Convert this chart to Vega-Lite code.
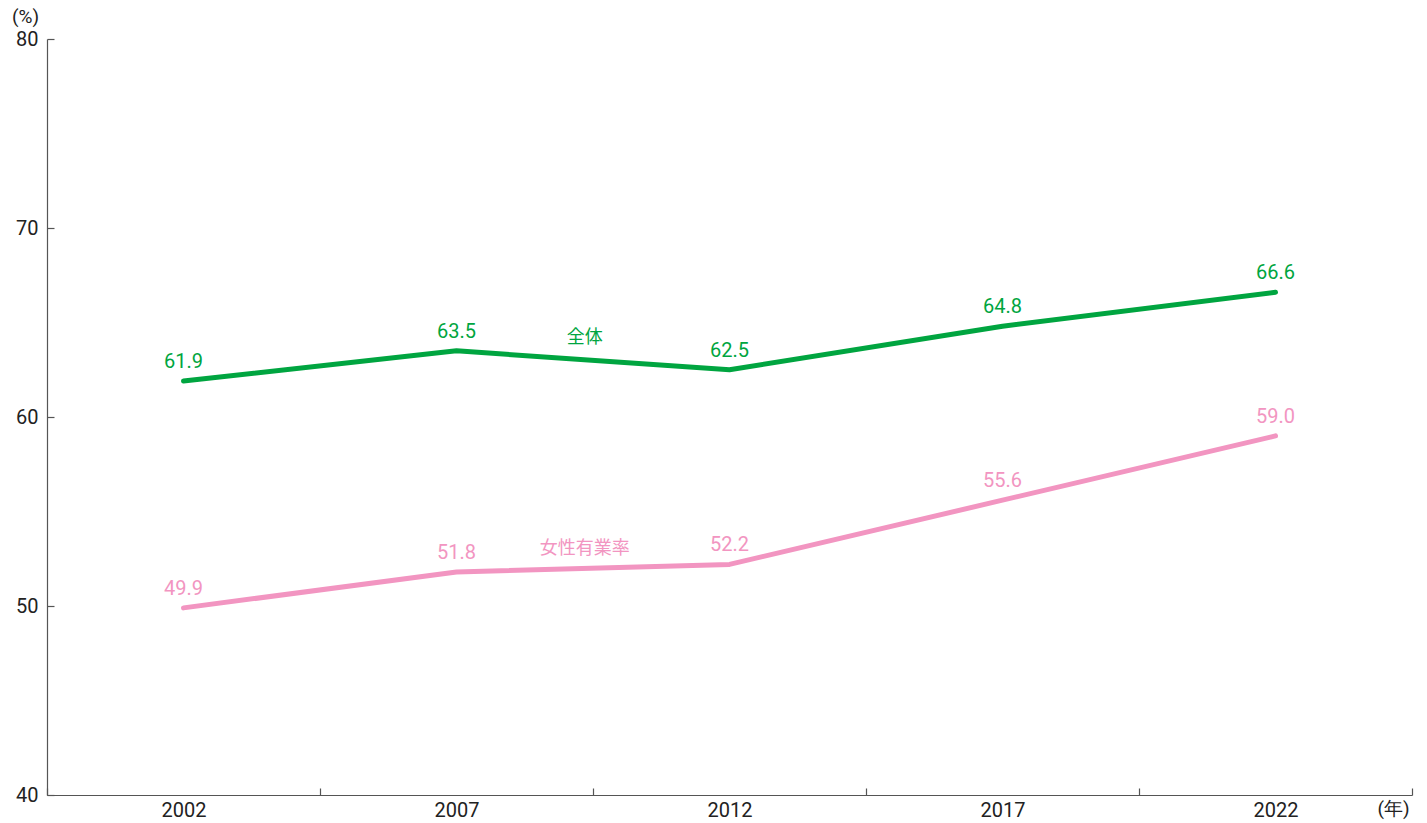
{
  "$schema": "https://vega.github.io/schema/vega-lite/v6.json",
  "autosize": "none",
  "width": 1365,
  "height": 756,
  "padding": {"left": 47, "top": 39, "right": 15, "bottom": 28},
  "background": "white",
  "config": {
    "view": {"stroke": null},
    "font": "Roboto",
    "axis": {"grid": false, "domainColor": "#555555", "tickColor": "#555555", "labelColor": "#222222", "titleColor": "#222222", "labelFont": "Roboto", "titleFont": "Roboto", "labelFontSize": 20, "titleFontSize": 19, "titleFontWeight": "normal", "domainWidth": 1.2, "tickWidth": 1.2}
  },
  "datasets": {
    "main": [
      {"year": 2002, "value": 61.9, "series": "全体"},
      {"year": 2007, "value": 63.5, "series": "全体"},
      {"year": 2012, "value": 62.5, "series": "全体"},
      {"year": 2017, "value": 64.8, "series": "全体"},
      {"year": 2022, "value": 66.6, "series": "全体"},
      {"year": 2002, "value": 49.9, "series": "女性有業率"},
      {"year": 2007, "value": 51.8, "series": "女性有業率"},
      {"year": 2012, "value": 52.2, "series": "女性有業率"},
      {"year": 2017, "value": 55.6, "series": "女性有業率"},
      {"year": 2022, "value": 59.0, "series": "女性有業率"}
    ],
    "names": [
      {"year": 2009.35, "value": 64.18, "series": "全体"},
      {"year": 2009.35, "value": 53.02, "series": "女性有業率"}
    ]
  },
  "encoding": {
    "x": {
      "field": "year", "type": "quantitative",
      "scale": {"domain": [1999.5, 2024.5], "nice": false, "zero": false},
      "axis": {
        "values": [1999.5, 2002, 2004.5, 2007, 2009.5, 2012, 2014.5, 2017, 2019.5, 2022, 2024.5],
        "labelExpr": "datum.value % 1 === 0 ? format(datum.value, 'd') : ''",
        "tickSize": -7,
        "tickOpacity": {"condition": {"test": "datum.value % 1 === 0", "value": 0}, "value": 1},
        "labelPadding": 12,
        "labelFlush": false,
        "labelOverlap": false,
        "title": "(年)",
        "titleX": 1346,
        "titleY": 13,
        "titleAlign": "center",
        "titleBaseline": "middle"
      }
    },
    "y": {
      "field": "value", "type": "quantitative",
      "scale": {"domain": [40, 80], "nice": false, "zero": false},
      "axis": {
        "values": [40, 50, 60, 70, 80],
        "tickSize": -7,
        "labelPadding": 16,
        "title": "(%)",
        "titleAngle": 0,
        "titleX": -22,
        "titleY": -23,
        "titleAlign": "center",
        "titleBaseline": "middle"
      }
    },
    "color": {
      "field": "series", "type": "nominal",
      "scale": {"domain": ["全体", "女性有業率"], "range": ["#00A540", "#F295C1"]},
      "legend": null
    }
  },
  "layer": [
    {
      "data": {"name": "main"},
      "mark": {"type": "line", "strokeWidth": 5, "strokeCap": "round", "strokeJoin": "round"},
      "encoding": {"detail": {"field": "series"}}
    },
    {
      "data": {"name": "main"},
      "mark": {"type": "text", "dy": -13, "baseline": "alphabetic", "align": "center", "fontSize": 20, "font": "Roboto"},
      "encoding": {"text": {"field": "value", "type": "quantitative", "format": ".1f"}}
    },
    {
      "data": {"name": "names"},
      "mark": {"type": "text", "baseline": "middle", "align": "center", "fontSize": 18, "font": "Noto Sans CJK JP"},
      "encoding": {"text": {"field": "series"}}
    }
  ]
}
